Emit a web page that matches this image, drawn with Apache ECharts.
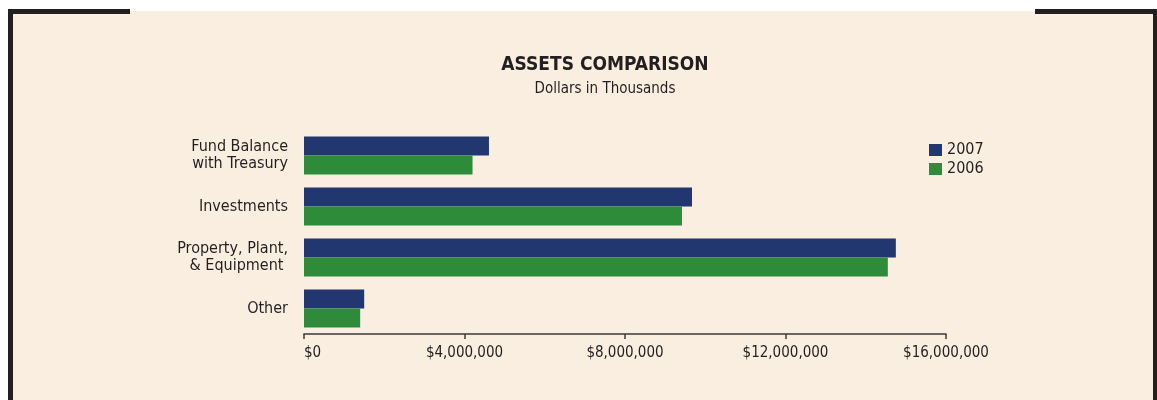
<!DOCTYPE html>
<html>
<head>
<meta charset="utf-8">
<script src="https://cdn.jsdelivr.net/npm/echarts@6/dist/echarts.min.js"></script>
<style>
  html, body { margin: 0; padding: 0; background: #ffffff; }
  #chart { width: 1157px; height: 400px; }
</style>
</head>
<body>
<div id="chart"></div>
<script>
// 数据
var categories = ['Fund Balance\nwith Treasury', 'Investments', 'Property, Plant,\n& Equipment ', 'Other'];
var values2007 = [4610000, 9670000, 14750000, 1500000];
var values2006 = [4200000, 9420000, 14550000, 1400000];
var xTicks = [0, 4000000, 8000000, 12000000, 16000000];

var font = '"Liberation Sans Narrow", "DejaVu Sans Condensed", "Arial Narrow", sans-serif';
var ink = '#231f20';

var myChart = echarts.init(document.getElementById('chart'));
var option = {
    backgroundColor: '#ffffff',
    // 边框和底色
    graphic: [
        { type: 'rect', shape: { x: 8, y: 11, width: 1147, height: 400 }, style: { fill: '#faeee1' }, silent: true },
        { type: 'rect', shape: { x: 8, y: 9, width: 122, height: 5 }, style: { fill: ink }, silent: true },
        { type: 'rect', shape: { x: 8, y: 9, width: 5, height: 400 }, style: { fill: ink }, silent: true },
        { type: 'rect', shape: { x: 1035, y: 9, width: 122, height: 5 }, style: { fill: ink }, silent: true },
        { type: 'rect', shape: { x: 1153, y: 9, width: 4, height: 400 }, style: { fill: ink }, silent: true }
    ],
    title: {
        text: 'ASSETS COMPARISON',
        subtext: 'Dollars in Thousands',
        left: 600,
        top: 51,
        textAlign: 'center',
        itemGap: 7,
        textStyle: { fontFamily: font, fontSize: 19, fontWeight: 'bold', color: ink },
        subtextStyle: { fontFamily: font, fontSize: 15, color: ink }
    },
    legend: {
        data: ['2007', '2006'],
        orient: 'vertical',
        left: 929,
        top: 142,
        padding: 0,
        itemWidth: 13,
        itemHeight: 12,
        itemGap: 3,
        icon: 'rect',
        textStyle: { fontFamily: font, fontSize: 16, color: ink, lineHeight: 16 }
    },
    grid: { left: 304, right: 211, top: 130, bottom: 66 },
    xAxis: {
        type: 'value',
        min: xTicks[0],
        max: xTicks[xTicks.length - 1],
        interval: xTicks[1] - xTicks[0],
        splitLine: { show: false },
        axisLine: { show: true, lineStyle: { color: '#3a3a3a', width: 1.5 } },
        axisTick: { show: true, length: 5, lineStyle: { color: '#3a3a3a', width: 1.5 } },
        axisLabel: {
            margin: 12,
            alignMinLabel: 'left',
            fontFamily: font, fontSize: 15, color: ink,
            formatter: function (v) { return '$' + v.toLocaleString('en-US'); }
        }
    },
    yAxis: {
        type: 'category',
        inverse: true,
        data: categories,
        axisLine: { show: false },
        axisTick: { show: false },
        axisLabel: { margin: 16, fontFamily: font, fontSize: 16, lineHeight: 17, color: ink, align: 'right' }
    },
    series: [
        { name: '2007', type: 'bar', data: values2007, barWidth: 19, barGap: '0%', itemStyle: { color: '#22376f' } },
        { name: '2006', type: 'bar', data: values2006, barWidth: 19, barGap: '0%', itemStyle: { color: '#2e8b3a' } }
    ]
};
myChart.setOption(option);
</script>
</body>
</html>
